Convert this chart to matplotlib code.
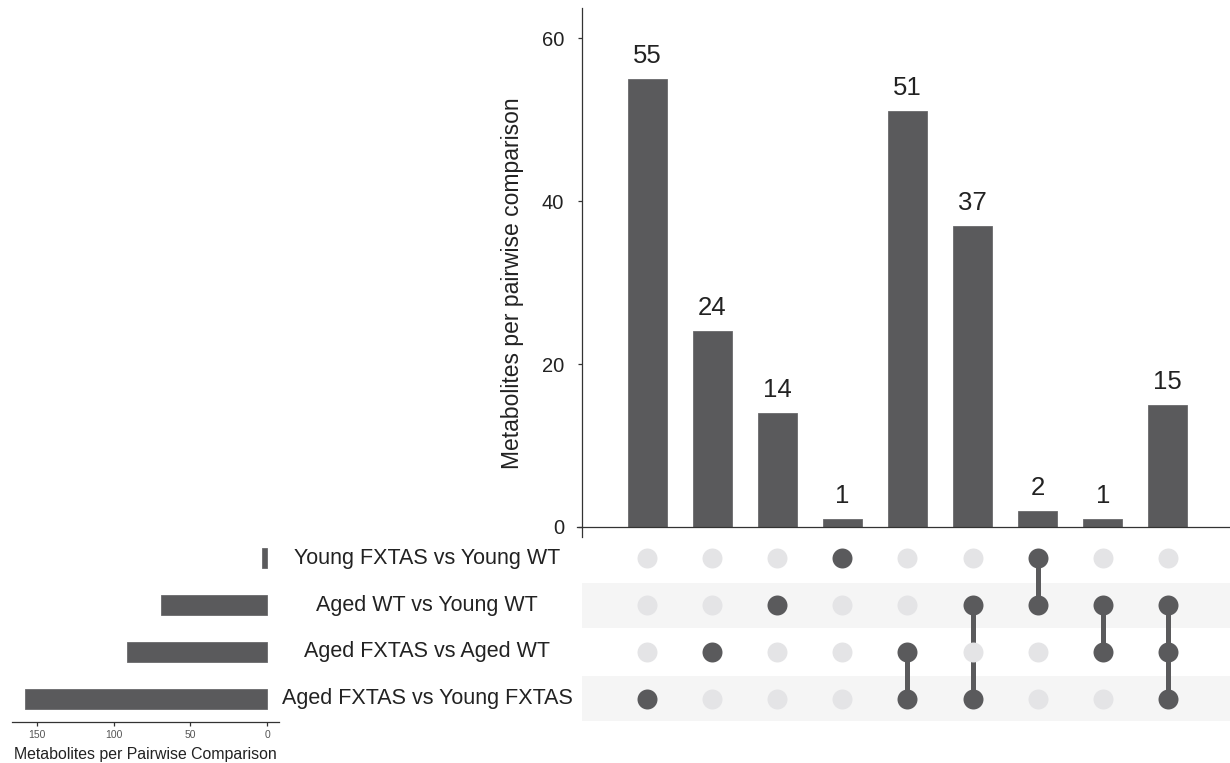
import matplotlib.pyplot as plt

plt.rcParams['font.family'] = ['Liberation Sans', 'DejaVu Sans']

# intersections (columns of the matrix), left to right
intersect_counts = [55, 24, 14, 1, 51, 37, 2, 1, 15]
# rows that take part in each intersection (0 = top row)
intersect_members = [[3], [2], [1], [0], [2, 3], [1, 3], [0, 1], [1, 2], [1, 2, 3]]

# comparisons (rows), top to bottom
set_names = ['Young FXTAS vs Young WT', 'Aged WT vs Young WT',
             'Aged FXTAS vs Aged WT', 'Aged FXTAS vs Young FXTAS']
set_sizes = [3, 69, 91, 158]

dark = '#5a5a5c'
light = '#e4e4e6'
stripe = '#f5f5f5'
axcol = '#333333'

fig = plt.figure(figsize=(12.3, 7.63), dpi=100)

W, H = 1230, 763
def px_box(x0, y0, x1, y1):
    return [x0 / W, 1 - y1 / H, (x1 - x0) / W, (y1 - y0) / H]

# --- intersection bars ---
ax_top = fig.add_axes(px_box(582, 8, 1230, 537))
xs = list(range(len(intersect_counts)))
ax_top.bar(xs, intersect_counts, width=0.6, color=dark, edgecolor='#6a6a6c', linewidth=0.6, zorder=2)
for x, v in zip(xs, intersect_counts):
    ax_top.annotate(str(v), (x, v), xytext=(0, 11.5), textcoords='offset points',
                    ha='center', va='baseline', fontsize=18.5, color='#222222')
ax_top.set_xlim(-1.0, 8.955)
ax_top.set_ylim(-1.23, 63.7)
ax_top.set_yticks([0, 20, 40, 60])
ax_top.set_xticks([])
for s in ['top', 'right', 'bottom']:
    ax_top.spines[s].set_visible(False)
ax_top.spines['left'].set_color(axcol)
ax_top.spines['left'].set_linewidth(0.9)
ax_top.axhline(0, xmin=-0.0077, xmax=1, color=axcol, lw=0.9, clip_on=False, zorder=3)
ax_top.tick_params(axis='y', length=3, width=0.9, color=axcol, pad=10,
                   labelsize=14.5, labelcolor='#222222')
ax_top.set_ylabel('Metabolites per pairwise comparison', fontsize=16.5, color='#222222')
ax_top.yaxis.set_label_coords(-0.0895, 0.48)

# --- matrix ---
ax_m = fig.add_axes(px_box(582, 535, 1230, 722))
ax_m.set_xlim(-1.0, 8.955)
ax_m.set_ylim(3.5, -0.5)
for r in range(len(set_names)):
    if r % 2 == 1:
        ax_m.axhspan(r - 0.48, r + 0.48, xmin=-0.003, color=stripe, lw=0, zorder=0)
for x, members in enumerate(intersect_members):
    for r in range(len(set_names)):
        ax_m.scatter(x, r, s=207, color=dark if r in members else light, lw=0, zorder=3)
    if len(members) > 1:
        ax_m.plot([x, x], [min(members), max(members)], color=dark, lw=3.6, zorder=2)
ax_m.axis('off')

# row labels, centred between the two panels
for r, name in enumerate(set_names):
    y = 1 - (535 + 187 * (r + 0.5) / 4) / H
    fig.text(427 / W, y, name, ha='center', va='center', fontsize=15.5, color='#222222')

# --- set size bars ---
ax_l = fig.add_axes(px_box(12, 535, 279, 722))
ax_l.barh(range(len(set_names)), set_sizes, height=0.43, color=dark, edgecolor='#6a6a6c', linewidth=0.6)
ax_l.set_xlim(166.3, -7.8)
ax_l.set_ylim(3.5, -0.5)
ax_l.set_yticks([])
ax_l.set_xticks([0, 50, 100, 150])
for s in ['top', 'right', 'left']:
    ax_l.spines[s].set_visible(False)
ax_l.spines['bottom'].set_color(axcol)
ax_l.spines['bottom'].set_linewidth(0.9)
ax_l.tick_params(axis='x', length=3, width=0.9, color=axcol, pad=3,
                 labelsize=7.5, labelcolor='#555555')
ax_l.set_xlabel('Metabolites per Pairwise Comparison', fontsize=11.4, color='#222222', labelpad=5)

fig.savefig('out.png', dpi=100)
